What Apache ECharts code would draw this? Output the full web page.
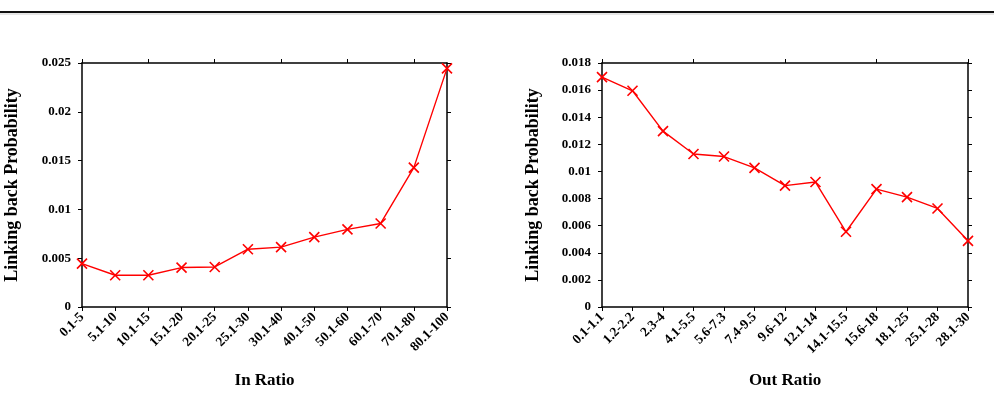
<!DOCTYPE html>
<html>
<head>
<meta charset="utf-8">
<script src="https://cdn.jsdelivr.net/npm/echarts@6/dist/echarts.min.js"></script>
<style>
  html, body { margin: 0; padding: 0; background: #fff; }
  #main { width: 994px; height: 400px; }
</style>
</head>
<body>
<div id="main"></div>
<script>
// 左图：In Ratio
var inCategories = ['0.1-5', '5.1-10', '10.1-15', '15.1-20', '20.1-25', '25.1-30',
    '30.1-40', '40.1-50', '50.1-60', '60.1-70', '70.1-80', '80.1-100'];
var inValues = [0.00445, 0.00325, 0.00325, 0.00404, 0.0041, 0.00592,
    0.00613, 0.00716, 0.00795, 0.00856, 0.01428, 0.02445];

// 右图：Out Ratio
var outCategories = ['0.1-1.1', '1.2-2.2', '2.3-4', '4.1-5.5', '5.6-7.3', '7.4-9.5',
    '9.6-12', '12.1-14', '14.1-15.5', '15.6-18', '18.1-25', '25.1-28', '28.1-30'];
var outValues = [0.01696, 0.01595, 0.01297, 0.01129, 0.0111, 0.01026,
    0.00895, 0.00922, 0.00555, 0.0087, 0.00811, 0.00727, 0.00488];

var font = 'Liberation Serif';
var axisLine = { show: true, onZero: false, lineStyle: { color: '#000', width: 1.5 } };
var tick = { show: true, length: 4, lineStyle: { color: '#000', width: 1 } };
var crossSymbol = 'path://M0,0L10,10M10,0L0,10';

function bottomAxis(gridIndex, data, name) {
    return {
        type: 'category',
        gridIndex: gridIndex,
        data: data,
        boundaryGap: false,
        name: name,
        nameLocation: 'middle',
        nameGap: 65,
        nameTextStyle: { fontFamily: font, fontWeight: 'bold', fontSize: 17, color: '#000' },
        axisLine: axisLine,
        axisTick: tick,
        axisLabel: {
            rotate: 45, interval: 0, margin: 8,
            fontFamily: font, fontWeight: 'bold', fontSize: 13.5, color: '#000'
        },
        splitLine: { show: false }
    };
}

function topAxis(gridIndex, data) {
    return {
        type: 'category',
        gridIndex: gridIndex,
        data: data,
        boundaryGap: false,
        position: 'top',
        axisLine: axisLine,
        axisTick: tick,
        axisLabel: { show: false },
        splitLine: { show: false }
    };
}

function leftAxis(gridIndex, max, interval, gap) {
    return {
        type: 'value',
        gridIndex: gridIndex,
        min: 0,
        max: max,
        interval: interval,
        name: 'Linking back Probability',
        nameLocation: 'middle',
        nameGap: gap,
        nameTextStyle: { fontFamily: font, fontWeight: 'bold', fontSize: 18, color: '#000' },
        axisLine: axisLine,
        axisTick: tick,
        axisLabel: { margin: 11, fontFamily: font, fontWeight: 'bold', fontSize: 13, color: '#000' },
        splitLine: { show: false }
    };
}

function rightAxis(gridIndex, max, interval) {
    return {
        type: 'value',
        gridIndex: gridIndex,
        position: 'right',
        min: 0,
        max: max,
        interval: interval,
        axisLine: axisLine,
        axisTick: tick,
        axisLabel: { show: false },
        splitLine: { show: false }
    };
}

function lineSeries(axisIndex, data) {
    return {
        type: 'line',
        xAxisIndex: axisIndex,
        yAxisIndex: axisIndex,
        data: data,
        symbol: crossSymbol,
        symbolSize: 10,
        showAllSymbol: true,
        lineStyle: { color: '#ff0000', width: 1.4 },
        itemStyle: { color: '#ff0000', borderColor: '#ff0000', borderWidth: 1.6 },
        animation: false
    };
}

var chart = echarts.init(document.getElementById('main'));
var option = {
    backgroundColor: '#fff',
    animation: false,
    grid: [
        { left: 82, right: 547, top: 63, bottom: 93 },
        { left: 602, right: 26, top: 63, bottom: 93 }
    ],
    xAxis: [
        bottomAxis(0, inCategories, 'In Ratio'),
        bottomAxis(1, outCategories, 'Out Ratio'),
        topAxis(0, inCategories),
        topAxis(1, outCategories)
    ],
    yAxis: [
        leftAxis(0, 0.025, 0.005, 61),
        leftAxis(1, 0.018, 0.002, 60),
        rightAxis(0, 0.025, 0.005),
        rightAxis(1, 0.018, 0.002)
    ],
    series: [
        lineSeries(0, inValues),
        lineSeries(1, outValues)
    ],
    graphic: [
        // 顶部分隔线
        { type: 'line', shape: { x1: 0, y1: 12, x2: 994, y2: 12 }, style: { stroke: '#111', lineWidth: 2 } },
        { type: 'line', shape: { x1: 0, y1: 14, x2: 994, y2: 14 }, style: { stroke: '#ccc', lineWidth: 1 } }
    ]
};
chart.setOption(option);
</script>
</body>
</html>
